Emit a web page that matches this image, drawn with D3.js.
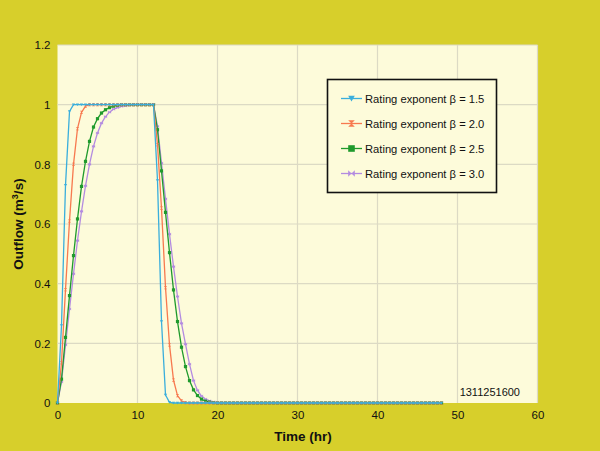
<!DOCTYPE html>
<html>
<head>
<meta charset="utf-8">
<script src="https://cdn.jsdelivr.net/npm/d3@7"></script>
<style>
  body { margin: 0; background: #d7cf2b; }
  svg { display: block; font-family: Arial, "Liberation Sans", sans-serif; }
</style>
</head>
<body>
<script>
// time steps, every half hour from 0 to 48 hr
var time = d3.range(0, 48.5, 0.5);

// outflow (m3/s), one row = 6 hours of half-hour values
var beta15 = [
  0, 0.26, 0.73, 0.977, 1, 1, 1, 1, 1, 1, 1, 1,
  1, 1, 1, 1, 1, 1, 1, 1, 1, 1, 1, 1,
  1, 0.746, 0.273, 0.027, 0.002, 0, 0, 0, 0, 0, 0, 0,
  0, 0, 0, 0, 0, 0, 0, 0, 0, 0, 0, 0,
  0, 0, 0, 0, 0, 0, 0, 0, 0, 0, 0, 0,
  0, 0, 0, 0, 0, 0, 0, 0, 0, 0, 0, 0,
  0, 0, 0, 0, 0, 0, 0, 0, 0, 0, 0, 0,
  0, 0, 0, 0, 0, 0, 0, 0, 0, 0, 0, 0,
  0];
var beta20 = [
  0, 0.135, 0.38, 0.61, 0.80, 0.92, 0.974, 0.995, 1, 1, 1, 1,
  1, 1, 1, 1, 1, 1, 1, 1, 1, 1, 1, 1,
  1, 0.866, 0.653, 0.387, 0.195, 0.077, 0.025, 0.007, 0.001, 0, 0, 0,
  0, 0, 0, 0, 0, 0, 0, 0, 0, 0, 0, 0,
  0, 0, 0, 0, 0, 0, 0, 0, 0, 0, 0, 0,
  0, 0, 0, 0, 0, 0, 0, 0, 0, 0, 0, 0,
  0, 0, 0, 0, 0, 0, 0, 0, 0, 0, 0, 0,
  0, 0, 0, 0, 0, 0, 0, 0, 0, 0, 0, 0,
  0];
var beta25 = [
  0, 0.08, 0.22, 0.36, 0.494, 0.617, 0.726, 0.81, 0.877, 0.925, 0.953, 0.972,
  0.983, 0.99, 0.995, 0.998, 1, 1, 1, 1, 1, 1, 1, 1,
  1, 0.916, 0.778, 0.639, 0.504, 0.379, 0.273, 0.187, 0.122, 0.075, 0.044, 0.025,
  0.013, 0.006, 0.003, 0.001, 0, 0, 0, 0, 0, 0, 0, 0,
  0, 0, 0, 0, 0, 0, 0, 0, 0, 0, 0, 0,
  0, 0, 0, 0, 0, 0, 0, 0, 0, 0, 0, 0,
  0, 0, 0, 0, 0, 0, 0, 0, 0, 0, 0, 0,
  0, 0, 0, 0, 0, 0, 0, 0, 0, 0, 0, 0,
  0];
var beta30 = [
  0, 0.071, 0.195, 0.315, 0.433, 0.544, 0.642, 0.728, 0.80, 0.86, 0.905, 0.938,
  0.96, 0.975, 0.985, 0.99, 0.994, 0.996, 0.998, 0.999, 1, 1, 1, 1,
  1, 0.927, 0.804, 0.684, 0.566, 0.457, 0.357, 0.267, 0.197, 0.13, 0.075, 0.042,
  0.023, 0.013, 0.007, 0.004, 0.002, 0.001, 0, 0, 0, 0, 0, 0,
  0, 0, 0, 0, 0, 0, 0, 0, 0, 0, 0, 0,
  0, 0, 0, 0, 0, 0, 0, 0, 0, 0, 0, 0,
  0, 0, 0, 0, 0, 0, 0, 0, 0, 0, 0, 0,
  0, 0, 0, 0, 0, 0, 0, 0, 0, 0, 0, 0,
  0];

var seriesNames = ["Rating exponent \u03b2 = 1.5", "Rating exponent \u03b2 = 2.0",
                   "Rating exponent \u03b2 = 2.5", "Rating exponent \u03b2 = 3.0"];
var xTicks = [0, 10, 20, 30, 40, 50, 60];
var yTicks = [0, 0.2, 0.4, 0.6, 0.8, 1, 1.2];

var colors = ["#3aaedc", "#f7794f", "#1f9a2c", "#b38be0"];
var allValues = [beta15, beta20, beta25, beta30];

var width = 600, height = 451;
var margin = {left: 57.5, right: 62.5, top: 45, bottom: 48};

var svg = d3.select("body").append("svg")
  .attr("width", width)
  .attr("height", height);

var x = d3.scaleLinear().domain([0, 60]).range([margin.left, width - margin.right]);
var y = d3.scaleLinear().domain([0, 1.2]).range([height - margin.bottom, margin.top]);

// plot area
svg.append("rect")
  .attr("x", x(0)).attr("y", y(1.2))
  .attr("width", x(60) - x(0)).attr("height", y(0) - y(1.2))
  .attr("fill", "#fdfbda");

// grid
svg.append("g").selectAll("line").data(xTicks.slice(1)).enter().append("line")
  .attr("x1", function(d){ return x(d); }).attr("x2", function(d){ return x(d); })
  .attr("y1", y(0)).attr("y2", y(1.2))
  .attr("stroke", "#dcdac4").attr("stroke-width", 1.2);
svg.append("g").selectAll("line").data(yTicks.slice(1)).enter().append("line")
  .attr("x1", x(0)).attr("x2", x(60))
  .attr("y1", function(d){ return y(d); }).attr("y2", function(d){ return y(d); })
  .attr("stroke", "#dcdac4").attr("stroke-width", 1.2);

// axes (labels only, no lines)
var xAxis = svg.append("g")
  .attr("transform", "translate(0," + y(0) + ")")
  .call(d3.axisBottom(x).tickValues(xTicks).tickSize(0).tickPadding(8));
var yAxis = svg.append("g")
  .attr("transform", "translate(" + x(0) + ",0)")
  .call(d3.axisLeft(y).tickValues(yTicks).tickSize(0).tickPadding(7).tickFormat(d3.format("~g")));
[xAxis, yAxis].forEach(function(a){
  a.select(".domain").remove();
  a.selectAll("text").attr("font-size", 11.5).attr("fill", "#111")
    .attr("font-family", "Arial, 'Liberation Sans', sans-serif");
});

// axis titles
svg.append("text")
  .attr("x", 303).attr("y", 441)
  .attr("text-anchor", "middle")
  .attr("font-size", 13.5).attr("font-weight", "bold").attr("fill", "#111")
  .text("Time (hr)");
var yt = svg.append("text")
  .attr("transform", "translate(23," + y(0.6) + ") rotate(-90)")
  .attr("text-anchor", "middle")
  .attr("font-size", 13.5).attr("font-weight", "bold").attr("fill", "#111");
yt.append("tspan").text("Outflow (m");
yt.append("tspan").attr("font-size", 9).attr("dy", -5).text("3");
yt.append("tspan").attr("dy", 5).text("/s)");

// marker shapes
function marker(k, s) {
  if (k === 0) return "M" + (-s) + "," + (-s * 0.8) + "L" + s + "," + (-s * 0.8) + "L0," + (s * 0.9) + "Z";
  if (k === 1) return "M" + (-s) + "," + (-s) + "L" + s + "," + (-s) + "L" + (-s) + "," + s + "L" + s + "," + s + "Z";
  if (k === 2) return "M" + (-s) + "," + (-s) + "H" + s + "V" + s + "H" + (-s) + "Z";
  return "M" + (-s) + "," + (-s) + "L" + s + "," + s + "L" + s + "," + (-s) + "L" + (-s) + "," + s + "Z";
}

var line = d3.line()
  .x(function(d){ return x(d[0]); })
  .y(function(d){ return y(d[1]); });

// draw beta 3.0 first so beta 1.5 sits on top
[3, 2, 1, 0].forEach(function(k) {
  var pts = time.map(function(t, i){ return [t, allValues[k][i]]; });
  var g = svg.append("g");
  g.append("path").datum(pts)
    .attr("d", line)
    .attr("fill", "none")
    .attr("stroke", colors[k])
    .attr("stroke-width", 1.3);
  g.selectAll("path.m").data(pts).enter().append("path")
    .attr("class", "m")
    .attr("transform", function(d){ return "translate(" + x(d[0]) + "," + y(d[1]) + ")"; })
    .attr("d", marker(k, 1.6))
    .attr("fill", colors[k]);
});

// legend
var lg = svg.append("g");
lg.append("rect")
  .attr("x", 327.5).attr("y", 79.5).attr("width", 169).attr("height", 113)
  .attr("fill", "#fdfbda").attr("stroke", "#111").attr("stroke-width", 1.6);
seriesNames.forEach(function(name, k) {
  var yy = 98.5 + k * 25;
  lg.append("line")
    .attr("x1", 341).attr("x2", 362).attr("y1", yy).attr("y2", yy)
    .attr("stroke", colors[k]).attr("stroke-width", 1.3);
  lg.append("path")
    .attr("transform", "translate(351.5," + yy + ")")
    .attr("d", marker(k, 3.3))
    .attr("fill", colors[k]);
  lg.append("text")
    .attr("x", 365).attr("y", yy + 4)
    .attr("font-size", 11.2).attr("fill", "#111")
    .text(name);
});

// figure id
svg.append("text")
  .attr("x", 520).attr("y", 396)
  .attr("text-anchor", "end")
  .attr("font-size", 11).attr("fill", "#111")
  .text("1311251600");
</script>
</body>
</html>
